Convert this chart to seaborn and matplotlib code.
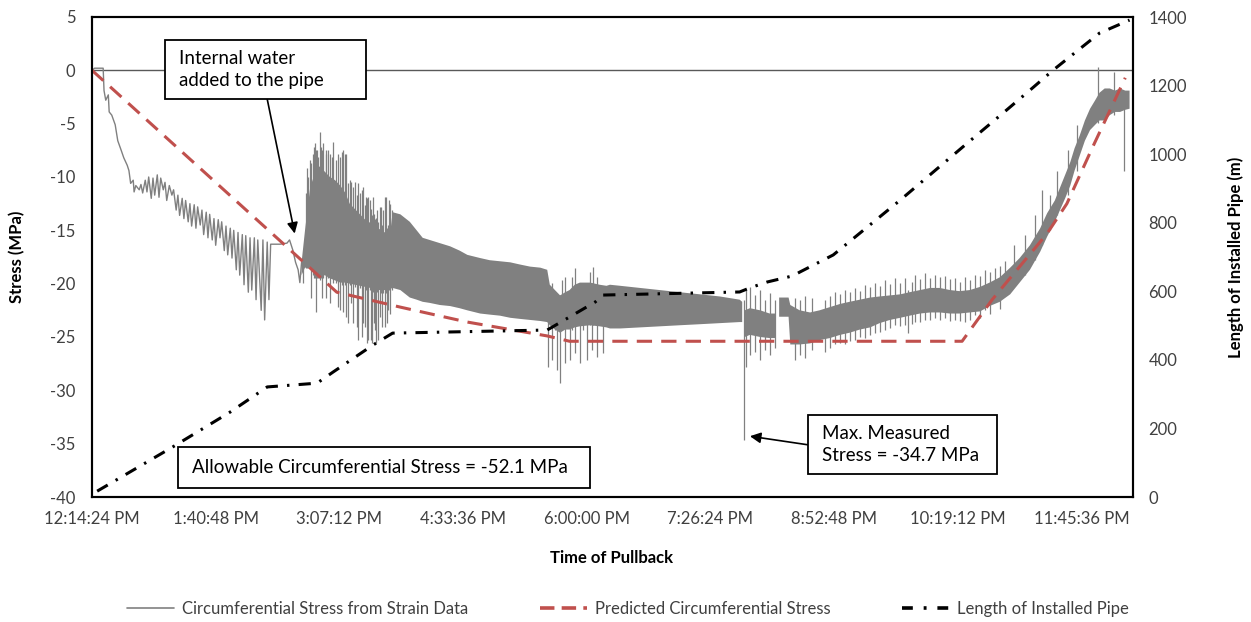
import matplotlib
matplotlib.use("Agg")
import matplotlib.pyplot as plt
from matplotlib.lines import Line2D
from matplotlib.patches import Rectangle
from matplotlib.ticker import FuncFormatter
import numpy as np
import seaborn as sns

# ---------------------------------------------------------------------------
# Data (time in decimal hours of the clock, stress in MPa, length in m)
# ---------------------------------------------------------------------------

# Strain-gauge trace before internal water was added (single trace with spikes)
early_t = [12.24, 12.27, 12.37, 12.38, 12.40, 12.43, 12.44, 12.47, 12.51, 12.54,
           12.58, 12.61, 12.65, 12.67, 12.69, 12.72, 12.73, 12.75, 12.79, 12.81,
           12.83, 12.86, 12.88, 12.90, 12.93, 12.95, 12.97, 13.00, 13.02, 13.04,
           13.07, 13.09, 13.11, 13.14, 13.17, 13.19, 13.22, 13.24, 13.26, 13.29,
           13.31, 13.33, 13.36, 13.38, 13.40, 13.43, 13.45, 13.47, 13.50, 13.52,
           13.54, 13.57, 13.59, 13.61, 13.64, 13.66, 13.68, 13.71, 13.73, 13.75,
           13.78, 13.80, 13.82, 13.85, 13.87, 13.89, 13.92, 13.94, 13.96, 13.99,
           14.01, 14.03, 14.06, 14.08, 14.10, 14.13, 14.15, 14.17, 14.21, 14.23,
           14.25, 14.28, 14.30, 14.32, 14.35, 14.43, 14.51, 14.54, 14.58, 14.61,
           14.64, 14.66, 14.68]
early_s = [0.0, 0.2, 0.2, -1.9, -2.8, -2.3, -3.9, -4.2, -5.1, -6.6,
           -7.5, -8.2, -8.9, -9.4, -10.6, -10.3, -11.4, -10.8, -11.2, -10.7,
           -11.5, -10.3, -11.4, -10.0, -12.0, -10.1, -11.7, -9.8, -11.9, -10.1,
           -11.2, -10.5, -12.2, -10.8, -11.7, -11.2, -13.1, -11.7, -13.6, -12.0,
           -13.9, -12.2, -14.2, -12.5, -14.6, -12.6, -14.8, -12.8, -14.5, -13.1,
           -15.4, -13.3, -15.7, -13.5, -15.9, -13.9, -16.4, -14.0, -15.7, -14.2,
           -16.9, -14.6, -17.3, -14.8, -17.6, -15.0, -18.7, -15.2, -19.2, -15.4,
           -20.1, -15.5, -20.8, -15.7, -20.6, -15.7, -21.5, -15.9, -22.5, -15.9,
           -23.4, -16.1, -21.5, -16.3, -16.3, -16.3, -16.2, -15.9, -16.9, -18.0,
           -18.7, -19.9, -18.0]

# Dense strain-gauge band after water was added: upper / lower envelope
band_t = [14.68, 14.72, 14.78, 14.84, 14.89, 14.95, 15.01, 15.07, 15.13, 15.19,
          15.24, 15.30, 15.36, 15.42, 15.48, 15.53, 15.59, 15.65, 15.71, 15.74,
          15.83, 15.94, 16.02, 16.09, 16.17, 16.29, 16.41, 16.52, 16.61, 16.76,
          16.87, 16.99, 17.11, 17.22, 17.34, 17.46, 17.54, 17.57, 17.63, 17.69,
          17.75, 17.80, 17.86, 17.92, 18.04, 18.15, 18.23, 18.27, 18.39, 18.62,
          18.85, 19.08, 19.32, 19.55, 19.78, 19.81, 19.825, 19.84, 19.90, 20.02,
          20.13, 20.20, 20.22, 20.24, 20.35, 20.37, 20.48, 20.60, 20.71, 20.83,
          20.95, 21.06, 21.18, 21.30, 21.41, 21.53, 21.65, 21.76, 21.88, 22.00,
          22.11, 22.23, 22.34, 22.46, 22.58, 22.69, 22.81, 22.93, 23.04, 23.16,
          23.28, 23.36, 23.45, 23.51, 23.57, 23.63, 23.68, 23.74, 23.80, 23.86,
          23.92, 23.97, 24.03, 24.09, 24.15, 24.21, 24.27, 24.32]
band_hi = [-18.0, -15.0, -11.0, -9.5, -9.0, -9.5, -10.0, -10.3, -10.8, -11.5,
           -12.5, -13.0, -13.5, -14.0, -14.3, -14.6, -14.9, -15.2, -15.4, -13.3,
           -13.5, -14.2, -15.0, -15.7, -15.9, -16.2, -16.5, -16.9, -17.3, -17.6,
           -17.8, -17.9, -18.0, -18.2, -18.4, -18.5, -18.7, -20.1, -20.6, -21.1,
           -20.8, -20.6, -20.1, -19.9, -19.9, -20.1, -20.2, -20.1, -20.2, -20.4,
           -20.6, -20.8, -21.0, -21.2, -21.5, -21.7, np.nan, -22.5, -22.3, -22.5,
           -22.8, -22.8, np.nan, -21.3, -21.3, -22.0, -22.5, -22.7, -22.5, -22.2,
           -21.9, -21.7, -21.5, -21.3, -21.2, -21.1, -21.0, -20.8, -20.6, -20.4,
           -20.4, -20.6, -20.7, -20.6, -20.3, -19.9, -19.4, -18.5, -17.6, -16.4,
           -14.8, -13.4, -12.2, -11.0, -9.8, -8.6, -7.3, -6.1, -4.7, -3.6,
           -2.8, -2.1, -1.7, -1.7, -1.9, -1.7, -1.9, -1.9]
band_lo = [-19.2, -18.5, -18.5, -19.3, -19.5, -19.2, -19.5, -19.7, -19.9, -19.9,
           -20.0, -20.1, -20.2, -20.3, -20.4, -20.5, -20.6, -20.6, -20.5, -20.4,
           -20.6, -21.3, -21.5, -21.7, -21.8, -22.0, -22.1, -22.3, -22.5, -22.8,
           -22.9, -23.0, -23.2, -23.3, -23.4, -23.5, -23.6, -23.9, -24.3, -24.6,
           -24.3, -24.3, -24.1, -24.0, -23.9, -24.0, -24.1, -24.2, -24.2, -24.1,
           -24.0, -23.9, -23.8, -23.7, -23.6, -23.6, np.nan, -25.0, -24.8, -25.0,
           -25.1, -25.1, np.nan, -23.1, -23.1, -25.7, -25.7, -25.6, -25.3, -25.1,
           -24.8, -24.6, -24.3, -24.1, -23.7, -23.4, -23.2, -23.0, -22.8, -22.7,
           -22.7, -22.8, -22.8, -22.7, -22.6, -22.1, -21.7, -21.0, -19.9, -18.7,
           -17.0, -15.6, -14.2, -13.1, -12.0, -10.8, -9.4, -8.0, -6.6, -5.6,
           -5.1, -4.7, -4.7, -4.2, -3.9, -3.9, -3.7, -3.6]

# Individual strain-gauge excursions beyond the band
spike_t = [14.70, 14.73, 14.74, 14.76, 14.78, 14.79, 14.81, 14.82, 14.84, 14.85,
           14.86, 14.87, 14.89, 14.91, 14.92, 14.93, 14.96, 14.97, 14.99, 15.01,
           15.03, 15.05, 15.08, 15.10, 15.13, 15.15, 15.16, 15.19, 15.20, 15.22,
           15.24, 15.26, 15.28, 15.30, 15.33, 15.34, 15.36, 15.38, 15.40, 15.42,
           15.43, 15.44, 15.45, 15.48, 15.485, 15.50, 15.51, 15.52, 15.53, 15.55,
           15.56, 15.57, 15.59, 15.60, 15.62, 15.63, 15.65, 15.66, 15.67, 15.69,
           15.70, 15.71, 15.73,
           17.55, 17.59, 17.63, 17.65, 17.69, 17.71, 17.75, 17.80, 17.83, 17.86,
           17.92, 17.96, 18.00, 18.04, 18.06, 18.07, 18.12, 18.19,
           19.83, 19.85, 19.90, 19.96, 20.02, 20.07, 20.13, 20.19, 20.42, 20.48,
           20.54, 20.62,
           20.77, 20.83, 20.89, 20.95, 21.01, 21.06, 21.12, 21.18, 21.24, 21.30,
           21.36, 21.41, 21.47, 21.53, 21.59, 21.65, 21.70, 21.74, 21.79, 21.82,
           21.88, 21.94, 22.00, 22.05, 22.11, 22.17, 22.23, 22.29, 22.34, 22.40,
           22.46, 22.52, 22.58, 22.64, 22.69, 22.75, 22.81, 22.87,
           22.98, 23.10, 23.22, 23.30, 23.39, 23.48, 23.60, 23.71,
           23.95, 24.14, 24.25]
spike_hi = [-18.0, -11.5, -9.2, -10.0, -8.4, -8.7, -7.8, -7.2, -6.8, -7.5,
            -7.5, -8.1, -5.8, -7.2, -7.5, -6.8, -7.8, -7.5, -7.5, -7.8,
            -8.1, -6.7, -8.4, -7.8, -8.1, -7.7, -7.5, -7.8, -7.8, -10.6,
            -10.3, -10.5, -10.9, -10.5, -11.7, -10.6, -11.5, -11.2, -10.9, -12.6,
            -11.9, -12.0, -11.9, -12.2, -13.0, -13.6, -11.9, -13.5, -13.9, -13.8,
            -13.1, -14.2, -12.8, -12.8, -14.5, -13.1, -11.9, -11.9, -14.8, -14.5,
            -12.2, -12.5, -13.1,
            -20.6, -19.9, -21.3, -21.1, -21.1, -19.7, -19.4, -20.6, -19.4, -18.5,
            -19.9, -20.3, -20.1, -18.9, -19.9, -18.4, -19.4, -20.3,
            -21.5, -20.6, -20.3, -21.1, -20.6, -21.5, -20.9, -21.5, -21.3, -21.5,
            -21.2, -21.3,
            -21.5, -21.2, -20.8, -21.0, -20.6, -20.8, -20.4, -20.7, -20.1, -20.3,
            -19.9, -20.2, -19.7, -20.0, -19.5, -19.9, -19.5, -20.6, -19.8, -19.2,
            -19.6, -19.0, -19.5, -19.2, -19.4, -19.3, -19.6, -19.5, -19.8, -19.4,
            -19.7, -19.2, -19.3, -18.7, -18.9, -18.5, -18.3, -17.9,
            -16.4, -15.4, -13.6, -11.2, -11.7, -9.4, -7.5, -5.1,
            0.3, -0.2, -2.3]
spike_lo = [-19.9, -18.5, -18.5, -18.5, -18.5, -21.3, -19.2, -19.5, -19.5, -22.7,
            -19.5, -19.5, -19.7, -19.5, -21.3, -19.5, -19.5, -21.3, -19.5, -21.8,
            -19.5, -19.9, -19.9, -22.2, -22.5, -20.1, -22.7, -20.1, -23.1, -23.7,
            -20.1, -21.8, -23.7, -20.3, -24.1, -25.3, -20.4, -25.0, -23.7, -24.1,
            -20.6, -25.6, -25.3, -20.6, -25.3, -25.6, -20.8, -23.7, -24.3, -25.6,
            -20.8, -25.3, -23.1, -20.9, -24.1, -20.9, -24.1, -20.9, -23.7, -22.5,
            -20.6, -22.8, -20.6,
            -27.8, -27.2, -24.3, -28.1, -29.3, -24.3, -27.4, -27.2, -24.3, -26.5,
            -27.4, -24.3, -27.2, -23.9, -26.2, -23.9, -26.9, -26.5,
            -34.7, -27.8, -26.7, -26.4, -27.2, -26.2, -26.7, -26.0, -27.2, -26.7,
            -27.0, -26.2,
            -26.4, -26.0, -25.7, -25.6, -25.7, -25.4, -25.3, -25.0, -25.1, -24.8,
            -24.6, -24.5, -24.3, -24.2, -23.9, -24.0, -23.9, -24.6, -23.8, -23.6,
            -23.6, -23.4, -23.4, -23.2, -23.4, -23.2, -23.5, -23.4, -23.5, -23.6,
            -23.4, -22.9, -23.2, -22.5, -22.8, -21.5, -22.4, -21.1,
            -20.1, -19.2, -17.8, -16.4, -15.0, -13.6, -11.7, -9.4,
            -4.9, -4.2, -9.4]

# Predicted circumferential stress
pred_t = [12.24, 15.09, 15.83, 16.61, 17.54, 17.80, 22.37, 22.72, 23.36, 23.59,
          23.89, 24.27]
pred_s = [0.0, -20.8, -22.2, -23.6, -24.9, -25.4, -25.4, -21.5, -15.3, -12.5,
          -7.2, -0.7]

# Length of installed pipe
len_t = [12.30, 13.18, 13.85, 14.28, 14.86, 15.05, 15.51, 15.74, 17.54, 17.80,
         18.10, 18.19, 19.78, 19.90, 20.10, 20.40, 20.48, 20.87, 21.65, 22.43,
         22.89, 23.19, 23.43, 23.97, 24.32]
len_m = [17, 146, 248, 321, 332, 365, 443, 478, 487, 525,
         569, 589, 598, 610, 627, 645, 656, 706, 866, 1032,
         1129, 1193, 1245, 1353, 1391]

stress_ticks = list(range(-40, 6, 5))
length_ticks = list(range(0, 1401, 200))
time_ticks = [12.24, 13.68, 15.12, 16.56, 18.00, 19.44, 20.88, 22.32, 23.76]

# ---------------------------------------------------------------------------
sns.set_theme(style="white")
plt.rcParams["font.family"] = ["Lato", "DejaVu Sans"]
plt.rcParams["axes.unicode_minus"] = False

GREY = "#808080"
RED = "#C0504D"
TXT = "#404040"

fig = plt.figure(figsize=(12.51, 6.22), dpi=100)
ax = fig.add_axes([92 / 1251, 1 - 497 / 622, (1133 - 92) / 1251, (497 - 17) / 622])
ax2 = ax.twinx()

ax.axhline(0, color="#595959", lw=1.0, zorder=1)

# measured stress
ax.fill_between(band_t, band_lo, band_hi, color=GREY, lw=0, zorder=2)
ax.vlines(spike_t, spike_lo, spike_hi, color=GREY, lw=0.9, zorder=2)
sns.lineplot(x=early_t, y=early_s, ax=ax, color=GREY, lw=1.0, sort=False,
             estimator=None, zorder=2)

# predicted stress
sns.lineplot(x=pred_t, y=pred_s, ax=ax, color=RED, lw=2.2, sort=False,
             estimator=None, linestyle=(0, (5, 3)), zorder=3)

# installed length on the secondary axis
sns.lineplot(x=len_t, y=len_m, ax=ax2, color="black", lw=2.2, sort=False,
             estimator=None, linestyle=(0, (4, 3, 0.8, 3)), zorder=3)


def clock(h, pos=None):
    secs = int(round(h * 3600)) % 86400
    hh, rem = divmod(secs, 3600)
    mm, ss = divmod(rem, 60)
    suffix = "AM" if hh < 12 else "PM"
    return f"{hh % 12 or 12}:{mm:02d}:{ss:02d} {suffix}"


ax.set_xlim(12.24, 24.36)
ax.set_ylim(-40, 5)
ax2.set_ylim(0, 1400)
ax.set_xticks(time_ticks)
ax.xaxis.set_major_formatter(FuncFormatter(clock))
ax.set_yticks(stress_ticks)
ax2.set_yticks(length_ticks)

for a in (ax, ax2):
    a.tick_params(axis="both", length=0, labelsize=12, labelcolor=TXT)
    a.grid(False)
ax.tick_params(axis="y", pad=12)
ax2.tick_params(axis="y", pad=11)
ax.tick_params(axis="x", pad=10)

for a in (ax, ax2):
    for sp in a.spines.values():
        sp.set_color("black")
        sp.set_linewidth(1.5)
        sp.set_visible(True)

ax.set_ylabel("Stress (MPa)", fontsize=12, fontweight="bold", color="black")
ax.yaxis.set_label_coords(-0.064, 0.5)
ax2.set_ylabel("Length of Installed Pipe (m)", fontsize=12, fontweight="bold",
               color="black")
ax2.yaxis.set_label_coords(1.091, 0.5)
ax.set_xlabel("Time of Pullback", fontsize=12, fontweight="bold", color="black")
ax.xaxis.set_label_coords(0.4995, -0.110)

# annotation boxes (axes-fraction placement)
def note_box(x0, y0, x1, y1):
    ax2.add_patch(Rectangle((x0, y0), x1 - x0, y1 - y0, transform=ax2.transAxes,
                            fc="white", ec="black", lw=1.3, zorder=6))


note_box(0.0701, 0.829, 0.2632, 0.952)
ax2.text(0.0836, 0.8906, "Internal water\nadded to the pipe", transform=ax2.transAxes,
         fontsize=13.5, color="black", ha="left", va="center", linespacing=1.3,
         zorder=7)
note_box(0.0826, 0.0188, 0.4784, 0.1042)
ax2.text(0.0961, 0.0615, "Allowable Circumferential Stress = -52.1 MPa",
         transform=ax2.transAxes, fontsize=13.5, color="black", ha="left",
         va="center", zorder=7)
note_box(0.6878, 0.0479, 0.8694, 0.1708)
ax2.text(0.7012, 0.1094, "Max. Measured\nStress = -34.7 MPa", transform=ax2.transAxes,
         fontsize=13.5, color="black", ha="left", va="center", linespacing=1.3,
         zorder=7)

arrow = dict(arrowstyle="-|>", color="black", lw=1.2, mutation_scale=16,
             shrinkA=0, shrinkB=0)
ax.annotate("", xy=(14.60, -15.3), xytext=(14.28, -2.7), arrowprops=arrow,
            zorder=6)
ax.annotate("", xy=(19.90, -34.3), xytext=(20.57, -35.1), arrowprops=arrow,
            zorder=6)

handles = [
    Line2D([], [], color=GREY, lw=1.2),
    Line2D([], [], color=RED, lw=2.6, linestyle=(0, (4, 2))),
    Line2D([], [], color="black", lw=2.6, linestyle=(0, (3, 3, 0.8, 3))),
]
labels = ["Circumferential Stress from Strain Data",
          "Predicted Circumferential Stress",
          "Length of Installed Pipe"]
fig.legend(handles, labels, loc="center", bbox_to_anchor=(0.502, 1 - 609 / 622),
           ncol=3, frameon=False, fontsize=12, handlelength=2.8,
           handletextpad=0.5, columnspacing=4.3, labelcolor=TXT)

fig.savefig("out.png", dpi=100)
